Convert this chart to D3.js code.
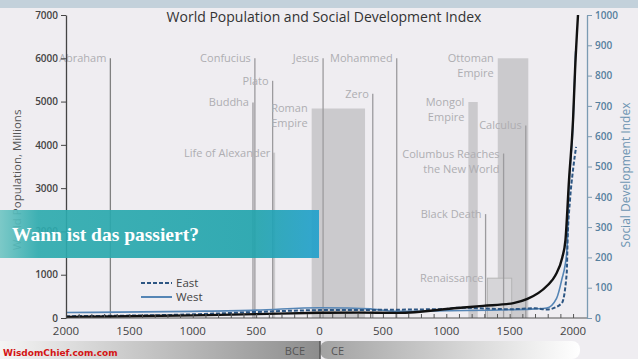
<!DOCTYPE html>
<html>
<head>
<meta charset="utf-8">
<script src="https://cdn.jsdelivr.net/npm/d3@7"></script>
<style>
  body { margin: 0; background: #efedf1; }
  svg { display: block; font-family: "Open Sans", "Noto Sans", sans-serif; }
</style>
</head>
<body>
<div id="chart"></div>
<script>
// world population, millions
var popYears = [-2000, -1500, -1000, -500, 0, 300, 620, 1090, 1290, 1530, 1640, 1795, 1860, 1915, 1940, 1968, 2000, 2016, 2039];
var popValues = [25, 40, 60, 90, 120, 125, 118, 232, 280, 345, 440, 745, 980, 1400, 1800, 3180, 4580, 5740, 7000];

// social development index, west (solid) and east (dashed)
var westYears = [-2000, -1000, -500, 0, 200, 400, 600, 1000, 1500, 1700, 1792, 1870, 1910, 1950, 1968, 2000, 2020];
var westValues = [18, 22, 26, 34, 33, 30, 22, 24, 27, 30, 33, 65, 125, 215, 430, 640, 880];
var eastYears = [-2000, -1000, -500, 0, 500, 1000, 1100, 1500, 1700, 1792, 1910, 1950, 1957, 1976, 2000, 2024];
var eastValues = [6, 12, 20, 26, 27, 30, 34, 29, 32, 28, 48, 148, 257, 390, 490, 565];

// events: name lines, year, height of marker (millions on left axis)
var eventNames = [["Abraham"], ["Confucius"], ["Buddha"], ["Plato"], ["Jesus"], ["Mohammed"], ["Zero"],
  ["Calculus"], ["Columbus Reaches", "the New World"], ["Black Death"]];
var eventYears = [-1650, -510, -525, -370, 28, 609, 420, 1627, 1452, 1310];
var eventTops = [6000, 6000, 4980, 5480, 6000, 6000, 5180, 4450, 3800, 2400];

// periods: name lines, start, end, height
var periodNames = [["Roman", "Empire"], ["Mongol", "Empire"], ["Ottoman", "Empire"], ["Renaissance"], ["Life of Alexander"]];
var periodStart = [-62, 1174, 1406, 1324, -372];
var periodEnd = [359, 1248, 1647, 1516, -350];
var periodTops = [4840, 4990, 6000, 920, 3820];

var xTicks = d3.range(-2000, 2001, 100);
var xLabels = [-2000, -1500, -1000, -500, 0, 500, 1000, 1500, 2000];
var popTicks = [0, 1000, 2000, 3000, 4000, 5000, 6000, 7000];
var sdiTicks = d3.range(0, 1001, 100);

var W = 638, H = 359;
var svg = d3.select('#chart').append('svg').attr('width', W).attr('height', H);

var x = d3.scaleLinear().domain([-2000, 2110]).range([66, 587]);
var yPop = d3.scaleLinear().domain([0, 7000]).range([318, 15]);
var ySdi = d3.scaleLinear().domain([0, 1000]).range([318, 15]);

var defs = svg.append('defs');
var g1 = defs.append('linearGradient').attr('id', 'bce');
g1.append('stop').attr('offset', '0%').attr('stop-color', '#f4f4f4');
g1.append('stop').attr('offset', '100%').attr('stop-color', '#8d8d8d');
var g2 = defs.append('linearGradient').attr('id', 'ce');
g2.append('stop').attr('offset', '0%').attr('stop-color', '#a2a2a2');
g2.append('stop').attr('offset', '100%').attr('stop-color', '#ffffff');
var g3 = defs.append('linearGradient').attr('id', 'banner');
g3.append('stop').attr('offset', '0%').attr('stop-color', '#72c6c4');
g3.append('stop').attr('offset', '12%').attr('stop-color', '#2eabae');
g3.append('stop').attr('offset', '80%').attr('stop-color', '#22a4ad');
g3.append('stop').attr('offset', '100%').attr('stop-color', '#22a0cc');

// top strip
svg.append('rect').attr('x', 0).attr('y', 0).attr('width', W).attr('height', 8).attr('fill', '#c3d1db');

// periods (bars)
svg.selectAll('.period')
  .data(periodNames)
  .enter().append('rect')
  .attr('class', 'period')
  .attr('x', function(d, i) { return x(periodStart[i]); })
  .attr('y', function(d, i) { return yPop(periodTops[i]); })
  .attr('width', function(d, i) { return x(periodEnd[i]) - x(periodStart[i]); })
  .attr('height', function(d, i) { return yPop(0) - yPop(periodTops[i]); })
  .attr('fill', function(d, i) { return i == 3 ? '#d6d5d8' : '#cbcacd'; })
  .attr('stroke', function(d, i) { return i == 3 ? '#b5b5b5' : 'none'; });

// events (lines)
svg.selectAll('.event')
  .data(eventNames)
  .enter().append('line')
  .attr('class', 'event')
  .attr('x1', function(d, i) { return x(eventYears[i]); })
  .attr('x2', function(d, i) { return x(eventYears[i]); })
  .attr('y1', function(d, i) { return yPop(eventTops[i]); })
  .attr('y2', yPop(0))
  .attr('stroke', function(d, i) { return i == 0 ? '#808080' : '#9c9b9e'; })
  .attr('stroke-width', 1.3);

// labels for events and periods
function addLabels(names, xs, tops) {
  names.forEach(function(lines, i) {
    var t = svg.append('text')
      .attr('x', xs[i] - 4)
      .attr('y', yPop(tops[i]))
      .attr('text-anchor', 'end')
      .attr('font-size', 11)
      .attr('fill', '#aeadb1');
    lines.forEach(function(s, j) {
      t.append('tspan').attr('x', xs[i] - 4).attr('dy', j == 0 ? 4 : 15).text(s);
    });
  });
}
addLabels(eventNames, eventYears.map(function(d) { return x(d); }), eventTops);
addLabels(periodNames, periodStart.map(function(d, i) { return i == 4 ? x(d) + 2 : x(d); }), periodTops);

// series
var line = d3.line().curve(d3.curveMonotoneX);
svg.append('path')
  .attr('d', line(westYears.map(function(d, i) { return [x(d), ySdi(westValues[i])]; })))
  .attr('fill', 'none').attr('stroke', '#5585b5').attr('stroke-width', 1.6);
svg.append('path')
  .attr('d', line(eastYears.map(function(d, i) { return [x(d), ySdi(eastValues[i])]; })))
  .attr('fill', 'none').attr('stroke', '#2d5683').attr('stroke-width', 2).attr('stroke-dasharray', '4,2');
svg.append('path')
  .attr('d', line(popYears.map(function(d, i) { return [x(d), yPop(popValues[i])]; })))
  .attr('fill', 'none').attr('stroke', '#111').attr('stroke-width', 2.4);

// x axis
var xAxis = svg.append('g')
  .attr('transform', 'translate(0,' + yPop(0) + ')')
  .call(d3.axisBottom(x).tickValues(xTicks).tickSize(-4).tickFormat(''));
xAxis.select('.domain').attr('stroke', '#555').attr('d', 'M' + x(-2000) + ',0H' + x(2110));
xAxis.selectAll('.tick line').attr('stroke', '#555');
svg.selectAll('.xlabel')
  .data(xLabels)
  .enter().append('text')
  .attr('class', 'xlabel')
  .attr('x', function(d) { return x(d); })
  .attr('y', 335)
  .attr('text-anchor', 'middle')
  .attr('font-size', 11.5)
  .attr('fill', '#444')
  .text(function(d) { return Math.abs(d); });

// left axis
var yAxisL = svg.append('g')
  .attr('transform', 'translate(' + x(-2000) + ',0)')
  .call(d3.axisLeft(yPop).tickValues(popTicks).tickSize(5).tickSizeOuter(0).tickFormat(d3.format('d')));
yAxisL.select('.domain').attr('stroke', '#444').attr('stroke-width', 1.3);
yAxisL.selectAll('.tick line').attr('stroke', '#444');
yAxisL.selectAll('.tick text').attr('font-size', 10).attr('font-weight', 600).attr('fill', '#444').attr('font-family', '"Open Sans", sans-serif');

// right axis
var yAxisR = svg.append('g')
  .attr('transform', 'translate(' + x(2110) + ',0)')
  .call(d3.axisRight(ySdi).tickValues(sdiTicks).tickSize(5).tickSizeOuter(0).tickFormat(d3.format('d')));
yAxisR.select('.domain').attr('stroke', '#7b9bb3').attr('stroke-width', 1.3);
yAxisR.selectAll('.tick line').attr('stroke', '#7b9bb3');
yAxisR.selectAll('.tick text').attr('font-size', 10).attr('font-weight', 600).attr('fill', '#56809e').attr('font-family', '"Open Sans", sans-serif');

// axis titles
svg.append('text')
  .attr('transform', 'translate(21,180) rotate(-90)')
  .attr('text-anchor', 'middle')
  .attr('font-size', 11.5)
  .attr('fill', '#555')
  .text('World Population, Millions');
svg.append('text')
  .attr('transform', 'translate(630,175) rotate(-90)')
  .attr('text-anchor', 'middle')
  .attr('font-size', 12)
  .attr('fill', '#6d94b1')
  .text('Social Development Index');

// title
svg.append('text')
  .attr('x', 324).attr('y', 22)
  .attr('text-anchor', 'middle')
  .attr('font-size', 14)
  .attr('fill', '#333')
  .text('World Population and Social Development Index');

// legend
var legend = [['East', '4,2', '#2d5683'], ['West', null, '#5585b5']];
legend.forEach(function(d, i) {
  var ly = 283 + i * 14;
  svg.append('line').attr('x1', 141).attr('x2', 172).attr('y1', ly).attr('y2', ly)
    .attr('stroke', d[2]).attr('stroke-width', 2).attr('stroke-dasharray', d[1]);
  svg.append('text').attr('x', 176).attr('y', ly + 4).attr('font-size', 11.5).attr('fill', '#444').text(d[0]);
});

// bottom era band
svg.append('rect').attr('x', 0).attr('y', 341).attr('width', 320).attr('height', 18).attr('fill', 'url(#bce)');
svg.append('rect').attr('x', 320).attr('y', 341).attr('width', 260).attr('height', 18).attr('rx', 8).attr('fill', 'url(#ce)');
svg.append('line').attr('x1', 320).attr('x2', 320).attr('y1', 341).attr('y2', 359).attr('stroke', '#555').attr('stroke-width', 1.5);
svg.append('text').attr('x', 305).attr('y', 355).attr('text-anchor', 'end').attr('font-size', 11).attr('fill', '#555').text('BCE');
svg.append('text').attr('x', 331).attr('y', 355).attr('font-size', 11).attr('fill', '#555').text('CE');
svg.append('text').attr('x', 3).attr('y', 356).attr('font-size', 9).attr('font-weight', 'bold')
  .attr('fill', '#d41414').attr('font-family', '"DejaVu Sans", sans-serif').text('WisdomChief.com.com');

// banner
svg.append('rect').attr('x', 0).attr('y', 210).attr('width', 319).attr('height', 48)
  .attr('fill', 'url(#banner)').attr('opacity', 0.92);
svg.append('text').attr('x', 12).attr('y', 241)
  .attr('font-size', 19.5).attr('font-weight', 'bold').attr('fill', '#fff')
  .attr('font-family', '"Liberation Serif", serif')
  .text('Wann ist das passiert?');
</script>
</body>
</html>
